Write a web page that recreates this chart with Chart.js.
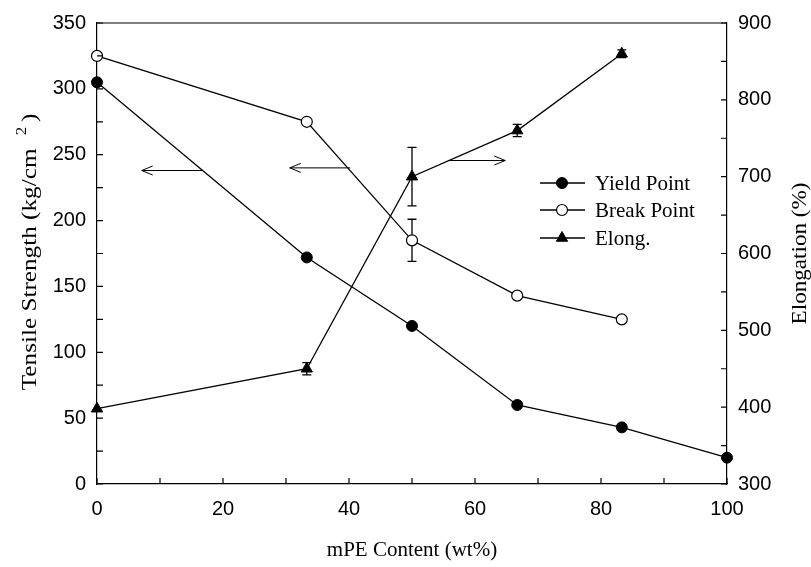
<!DOCTYPE html>
<html><head><meta charset="utf-8">
<script src="https://cdn.jsdelivr.net/npm/chart.js@4.4.1/dist/chart.umd.min.js"></script>
<style>html,body{margin:0;padding:0;background:#fff}canvas{display:block}</style>
</head><body>
<canvas id="c" width="811" height="567"></canvas>
<script>
// ---- data ----
const yieldContent = [0, 33.3, 50, 66.7, 83.3, 100];
const yieldPoint   = [305, 172, 120, 60, 43, 20];
const yieldErr     = [0, 0, 0, 0, 0, 0];
const breakContent = [0, 33.3, 50, 66.7, 83.3];
const breakPoint   = [325, 275, 185, 143, 125];
const breakErr     = [0, 0, 16, 0, 0];
const elongContent = [0, 33.3, 50, 66.7, 83.3];
const elongation   = [398, 450, 700, 760, 860];
const elongErr     = [0, 8, 38, 8, 5];
const xMinorTicks    = [0,10,20,30,40,50,60,70,80,90,100];
const leftMinorTicks = [0,25,50,75,100,125,150,175,200,225,250,275,300,325,350];
const rightMinorTicks= [300,350,400,450,500,550,600,650,700,750,800,850,900];
// arrows (x from -> x to, value on left axis)
const arrowFrom = [16.7, 40.2, 55.7];
const arrowTo   = [7.1, 30.6, 64.8];
const arrowVal  = [238, 240, 245.6];
const legendLabels = ['Yield Point', 'Break Point', 'Elong.'];

const SERIF = '"Liberation Serif", "Times New Roman", serif';
const SANS = '"Liberation Sans", Arial, sans-serif';
const pts = (xs, ys) => xs.map((x, i) => ({x, y: ys[i]}));

const decor = {
  id: 'decor',
  beforeDatasetsDraw(chart) {
    const ctx = chart.ctx, xs = chart.scales.x;
    const bars = [
      [yieldContent, yieldPoint, yieldErr, chart.scales.y],
      [breakContent, breakPoint, breakErr, chart.scales.y],
      [elongContent, elongation, elongErr, chart.scales.y2]
    ];
    ctx.save();
    ctx.strokeStyle = '#000'; ctx.lineWidth = 1.3;
    bars.forEach(([xv, yv, ev, sc]) => {
      xv.forEach((x, i) => {
        if (!ev[i]) return;
        const px = xs.getPixelForValue(x);
        const t = sc.getPixelForValue(yv[i] + ev[i]);
        const b = sc.getPixelForValue(yv[i] - ev[i]);
        ctx.beginPath();
        ctx.moveTo(px, t); ctx.lineTo(px, b);
        ctx.moveTo(px - 4.5, t); ctx.lineTo(px + 4.5, t);
        ctx.moveTo(px - 4.5, b); ctx.lineTo(px + 4.5, b);
        ctx.stroke();
      });
    });
    ctx.restore();
  },
  afterDraw(chart) {
    const ctx = chart.ctx, a = chart.chartArea;
    const xs = chart.scales.x, yl = chart.scales.y, yr = chart.scales.y2;
    ctx.save();
    ctx.strokeStyle = '#000'; ctx.lineWidth = 1.2;
    // top border
    ctx.beginPath(); ctx.moveTo(a.left, a.top); ctx.lineTo(a.right, a.top); ctx.stroke();
    // inward ticks
    ctx.beginPath();
    xMinorTicks.forEach(v => { const p = xs.getPixelForValue(v); ctx.moveTo(p, a.bottom); ctx.lineTo(p, a.bottom - 6); });
    leftMinorTicks.forEach(v => { const p = yl.getPixelForValue(v); ctx.moveTo(a.left, p); ctx.lineTo(a.left + 6, p); });
    rightMinorTicks.forEach(v => { const p = yr.getPixelForValue(v); ctx.moveTo(a.right, p); ctx.lineTo(a.right - 6, p); });
    ctx.stroke();
    // arrows
    ctx.lineWidth = 1;
    arrowFrom.forEach((f, i) => {
      const x1 = xs.getPixelForValue(f), x2 = xs.getPixelForValue(arrowTo[i]);
      const y = yl.getPixelForValue(arrowVal[i]);
      const d = Math.sign(x2 - x1);
      ctx.beginPath();
      ctx.moveTo(x1, y); ctx.lineTo(x2, y);
      ctx.moveTo(x2 - d * 11, y - 4.5); ctx.lineTo(x2, y); ctx.lineTo(x2 - d * 11, y + 4.5);
      ctx.stroke();
    });
    // legend
    const rows = [183, 210, 238];
    chart.data.datasets.forEach((ds, i) => {
      const y = rows[i];
      ctx.lineWidth = 1.3;
      ctx.strokeStyle = '#000';
      ctx.beginPath(); ctx.moveTo(540, y); ctx.lineTo(585, y); ctx.stroke();
      ctx.fillStyle = ds.pointBackgroundColor;
      ctx.lineWidth = ds.pointBorderWidth;
      ctx.beginPath();
      if (ds.pointStyle === 'circle') ctx.arc(562, y, ds.pointRadius, 0, Math.PI * 2);
      else {
        const r = ds.pointRadius, h = r * Math.sqrt(3) / 2;
        ctx.moveTo(562, y - r); ctx.lineTo(562 + h, y + r / 2); ctx.lineTo(562 - h, y + r / 2); ctx.closePath();
      }
      ctx.fill(); ctx.stroke();
      ctx.fillStyle = '#000';
      ctx.font = '21px ' + SERIF;
      ctx.textAlign = 'left'; ctx.textBaseline = 'middle';
      ctx.fillText(legendLabels[i], 595, y + 1);
    });
    // titles
    ctx.fillStyle = '#000';
    ctx.font = '21px ' + SERIF;
    ctx.textAlign = 'center'; ctx.textBaseline = 'middle';
    ctx.fillText('mPE Content (wt%)', (a.left + a.right) / 2, 550);
    // right title
    ctx.save();
    ctx.translate(800, (a.top + a.bottom) / 2);
    ctx.rotate(-Math.PI / 2); ctx.scale(1.1, 1);
    ctx.fillText('Elongation (%)', 0, 0);
    ctx.restore();
    // left title with superscript
    ctx.save();
    ctx.translate(30, 252);
    ctx.rotate(-Math.PI / 2); ctx.scale(1.2, 1);
    ctx.textAlign = 'left';
    const main = 'Tensile Strength (kg/cm', sup = '2', close = ')';
    ctx.font = '21px ' + SERIF;
    const wm = ctx.measureText(main).width, wc = ctx.measureText(close).width;
    ctx.font = '14px ' + SERIF;
    const ws = ctx.measureText(sup).width;
    const gap1 = 11, gap2 = 4;
    const total = wm + gap1 + ws + gap2 + wc;
    const x0 = -total / 2;
    ctx.font = '21px ' + SERIF;
    ctx.fillText(main, x0, 0);
    ctx.font = '14px ' + SERIF;
    ctx.fillText(sup, x0 + wm + gap1, -8);
    ctx.font = '21px ' + SERIF;
    ctx.fillText(close, x0 + wm + gap1 + ws + gap2, 0);
    ctx.restore();
    ctx.restore();
  }
};

const tickFont = {family: SANS, size: 20};
new Chart(document.getElementById('c'), {
  type: 'line',
  data: {
    datasets: [
      {label: legendLabels[0], data: pts(yieldContent, yieldPoint), yAxisID: 'y',
       borderColor: '#000', borderWidth: 1.3, pointStyle: 'circle', pointRadius: 5.5,
       pointBackgroundColor: '#000', pointBorderColor: '#000', pointBorderWidth: 1, clip: false},
      {label: legendLabels[1], data: pts(breakContent, breakPoint), yAxisID: 'y',
       borderColor: '#000', borderWidth: 1.3, pointStyle: 'circle', pointRadius: 5.5,
       pointBackgroundColor: '#fff', pointBorderColor: '#000', pointBorderWidth: 1.2, clip: false},
      {label: legendLabels[2], data: pts(elongContent, elongation), yAxisID: 'y2',
       borderColor: '#000', borderWidth: 1.3, pointStyle: 'triangle', pointRadius: 6.5,
       pointBackgroundColor: '#000', pointBorderColor: '#000', pointBorderWidth: 1, clip: false}
    ]
  },
  options: {
    responsive: false, animation: false, events: [],
    layout: {padding: {top: 18, left: 0, right: 0, bottom: 0}},
    plugins: {legend: {display: false}, tooltip: {enabled: false}},
    scales: {
      x: {type: 'linear', min: 0, max: 100,
          ticks: {stepSize: 20, font: tickFont, color: '#000', padding: 13, maxRotation: 0},
          grid: {display: false, drawTicks: false},
          border: {display: true, color: '#000', width: 1.2},
          afterFit: s => { s.height = 83; }},
      y: {position: 'left', min: 0, max: 350,
          ticks: {stepSize: 50, font: tickFont, color: '#000', padding: 11},
          grid: {display: false, drawTicks: false},
          border: {display: true, color: '#000', width: 1.2},
          afterFit: s => { s.width = 97; }},
      y2: {position: 'right', min: 300, max: 900,
          ticks: {stepSize: 100, font: tickFont, color: '#000', padding: 11},
          grid: {display: false, drawTicks: false},
          border: {display: true, color: '#000', width: 1.2},
          afterFit: s => { s.width = 84; }}
    }
  },
  plugins: [decor]
});
</script>
</body></html>
